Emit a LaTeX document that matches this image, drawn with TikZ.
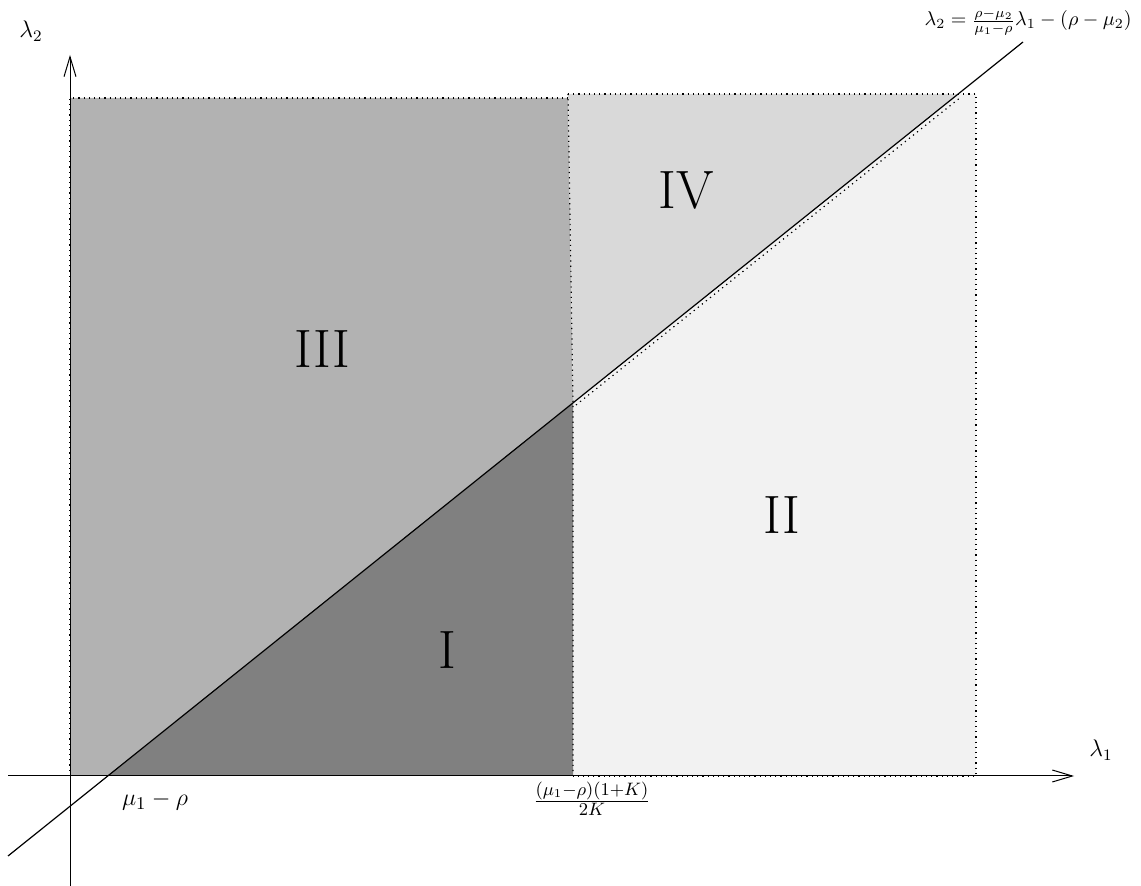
\documentclass[tikz,border=0pt]{standalone}
\usetikzlibrary{arrows.meta}
\begin{document}
\begin{tikzpicture}[x=0.5pt,y=-0.5pt,
  ax/.style={line width=0.5pt,-{Straight Barb[length=10pt,width=6pt,line width=0.5pt]}},
  bord/.style={dotted,line width=0.6pt},
  roman/.style={font=\fontsize{27}{30}\selectfont},
  lbl/.style={inner sep=0pt},
  axl/.style={inner sep=0pt,font=\fontsize{11.5}{13}\selectfont},
  tick/.style={inner sep=0pt,font=\fontsize{12.5}{14}\selectfont}]
\useasboundingbox (0,0) rectangle (1141,886);
% key points
\coordinate (O) at (70,776);
\coordinate (A) at (108,776);
\coordinate (B) at (573,403);
\coordinate (C) at (573,776);
\coordinate (T3) at (70,98);
\coordinate (T3r) at (568,98);
\coordinate (T4) at (568,94);
\coordinate (L4) at (958,94);
\coordinate (R2) at (976,94);
\coordinate (R2b) at (976,776);
% regions
\fill[black!30] (T3) -- (T3r) -- (B) -- (A) -- (O) -- cycle;
\fill[black!5] (B) -- (L4) -- (R2) -- (R2b) -- (C) -- cycle;
\fill[black!15] (T4) -- (L4) -- (B) -- cycle;
\fill[black!50] (A) -- (B) -- (C) -- cycle;
% dotted borders
\draw[bord] (O) -- (T3) -- (T3r);
\draw[bord] (T4) -- (L4) -- (R2) -- (R2b) -- (C);
\draw[bord] (T4) -- (B) -- (C);
\draw[bord] ([shift={(3,2)}]B) -- ([shift={(3,3)}]L4);
% axes
\coordinate (xs) at (8,776);
\coordinate (xe) at (1074,776);
\coordinate (ys) at (70,886);
\coordinate (ye) at (70,55);
\draw[ax] (xs) -- (xe);
\draw[ax] (ys) -- (ye);
% main line
\coordinate (ls) at (8,856);
\coordinate (le) at (1023,42);
\draw[line width=0.6pt] (ls) -- (le);
% labels
\node[axl] (l2) at (31,31) {$\lambda_2$};
\node[axl] (l1) at (1101,750) {$\lambda_1$};
\node[lbl,anchor=east,font=\fontsize{10}{12}\selectfont] (eq) at (1132,22) {$\lambda_2=\frac{\rho-\mu_2}{\mu_1-\rho}\lambda_1-(\rho-\mu_2)$};
\node[tick] (m1) at (155,801) {$\mu_1-\rho$};
\node[tick] (fr) at (592,799) {$\frac{(\mu_1-\rho)(1+K)}{2K}$};
\node[roman] (r3) at (322,349) {III};
\node[roman] (r4) at (686,190) {IV};
\node[roman] (r1) at (447,650) {I};
\node[roman] (r2) at (782,515) {II};
\end{tikzpicture}
\end{document}
